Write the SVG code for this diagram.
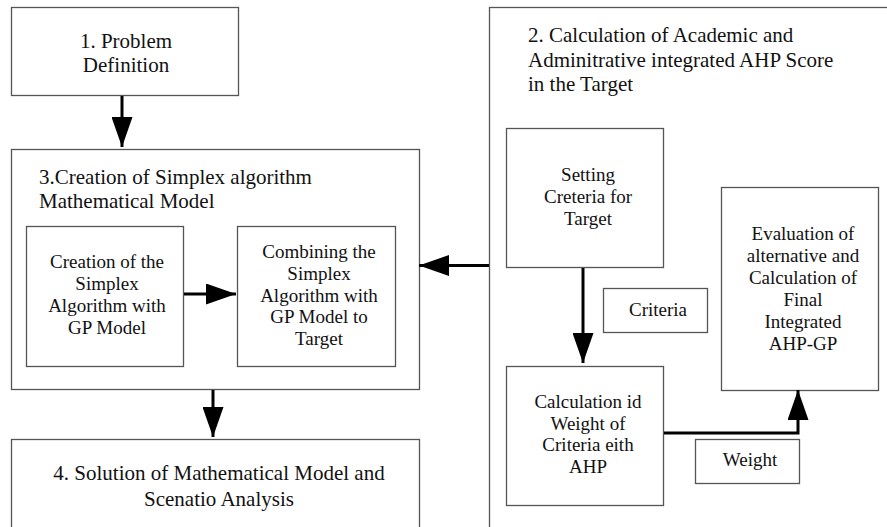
<svg xmlns="http://www.w3.org/2000/svg" width="887" height="527" viewBox="0 0 887 527">
<style>
.box{fill:#fff;stroke:#555;stroke-width:1.3}
text{font-family:'Liberation Serif','Times New Roman','DejaVu Serif',serif;fill:#111}
.l{font-size:21px}
.s{font-size:19px}
.c{text-anchor:middle}
.conn line,.conn polyline{stroke:#000;stroke-width:3;fill:none}
</style>
<defs>
<marker id="ah" viewBox="0 0 30 21" refX="30" refY="10.5" markerWidth="30" markerHeight="21" markerUnits="userSpaceOnUse" orient="auto">
<path d="M0,0 L30,10.5 L0,21 Z" fill="#000"/>
</marker>
</defs>
<rect width="887" height="527" fill="#fff"/>
<g id="n1">
<rect class="box" x="11.5" y="7.5" width="227" height="88"/>
<text class="l c" x="126" y="48">1. Problem</text>
<text class="l c" x="126" y="72">Definition</text>
</g>
<g id="n3">
<rect class="box" x="11.5" y="149.5" width="408" height="240"/>
<text class="l" x="39" y="184">3.Creation of Simplex algorithm</text>
<text class="l" x="39" y="208">Mathematical Model</text>
</g>
<g id="n3a">
<rect class="box" x="26.5" y="226.5" width="157" height="140"/>
<text class="s c" x="107" y="268">Creation of the</text>
<text class="s c" x="107" y="290">Simplex</text>
<text class="s c" x="107" y="312">Algorithm with</text>
<text class="s c" x="107" y="334">GP Model</text>
</g>
<g id="n3b">
<rect class="box" x="237.5" y="226.5" width="158" height="140"/>
<text class="s c" x="319" y="258">Combining the</text>
<text class="s c" x="319" y="280">Simplex</text>
<text class="s c" x="319" y="302">Algorithm with</text>
<text class="s c" x="319" y="323">GP Model to</text>
<text class="s c" x="319" y="345">Target</text>
</g>
<g id="n2">
<rect class="box" x="489.5" y="7.5" width="420" height="540"/>
<text class="l" x="528" y="42">2. Calculation of Academic and</text>
<text class="l" x="528" y="67">Adminitrative integrated AHP Score</text>
<text class="l" x="528" y="91">in the Target</text>
</g>
<g id="n2a">
<rect class="box" x="506.5" y="128.5" width="157" height="139"/>
<text class="s c" x="588" y="181">Setting</text>
<text class="s c" x="588" y="203">Creteria for</text>
<text class="s c" x="588" y="225">Target</text>
</g>
<g id="n2b">
<rect class="box" x="506.5" y="366.5" width="157" height="139"/>
<text class="s c" x="588" y="408">Calculation id</text>
<text class="s c" x="588" y="430">Weight of</text>
<text class="s c" x="588" y="451">Criteria eith</text>
<text class="s c" x="588" y="473">AHP</text>
</g>
<g id="n2c">
<rect class="box" x="721.5" y="187.5" width="157" height="203"/>
<text class="s c" x="803" y="240">Evaluation of</text>
<text class="s c" x="803" y="262">alternative and</text>
<text class="s c" x="803" y="284">Calculation of</text>
<text class="s c" x="803" y="306">Final</text>
<text class="s c" x="803" y="328">Integrated</text>
<text class="s c" x="803" y="350">AHP-GP</text>
</g>
<g id="lbl-criteria">
<rect class="box" x="603.5" y="288.5" width="104" height="44"/>
<text class="s c" x="658" y="316">Criteria</text>
</g>
<g id="lbl-weight">
<rect class="box" x="695.5" y="439.5" width="104" height="44"/>
<text class="s c" x="750" y="466">Weight</text>
</g>
<g id="n4">
<rect class="box" x="11.5" y="439.5" width="408" height="100"/>
<text class="l c" x="219" y="480">4. Solution of Mathematical Model and</text>
<text class="l c" x="219" y="506">Scenatio Analysis</text>
</g>
<g class="conn" id="connectors">
<line x1="122" y1="96" x2="122" y2="147" marker-end="url(#ah)"/>
<line x1="184" y1="294" x2="236" y2="294" marker-end="url(#ah)"/>
<line x1="489" y1="265.5" x2="419" y2="265.5" marker-end="url(#ah)"/>
<line x1="583" y1="268" x2="583" y2="363" marker-end="url(#ah)"/>
<polyline points="664,433 798,433 798,390" marker-end="url(#ah)"/>
<line x1="213" y1="390" x2="213" y2="437" marker-end="url(#ah)"/>
</g>
</svg>
